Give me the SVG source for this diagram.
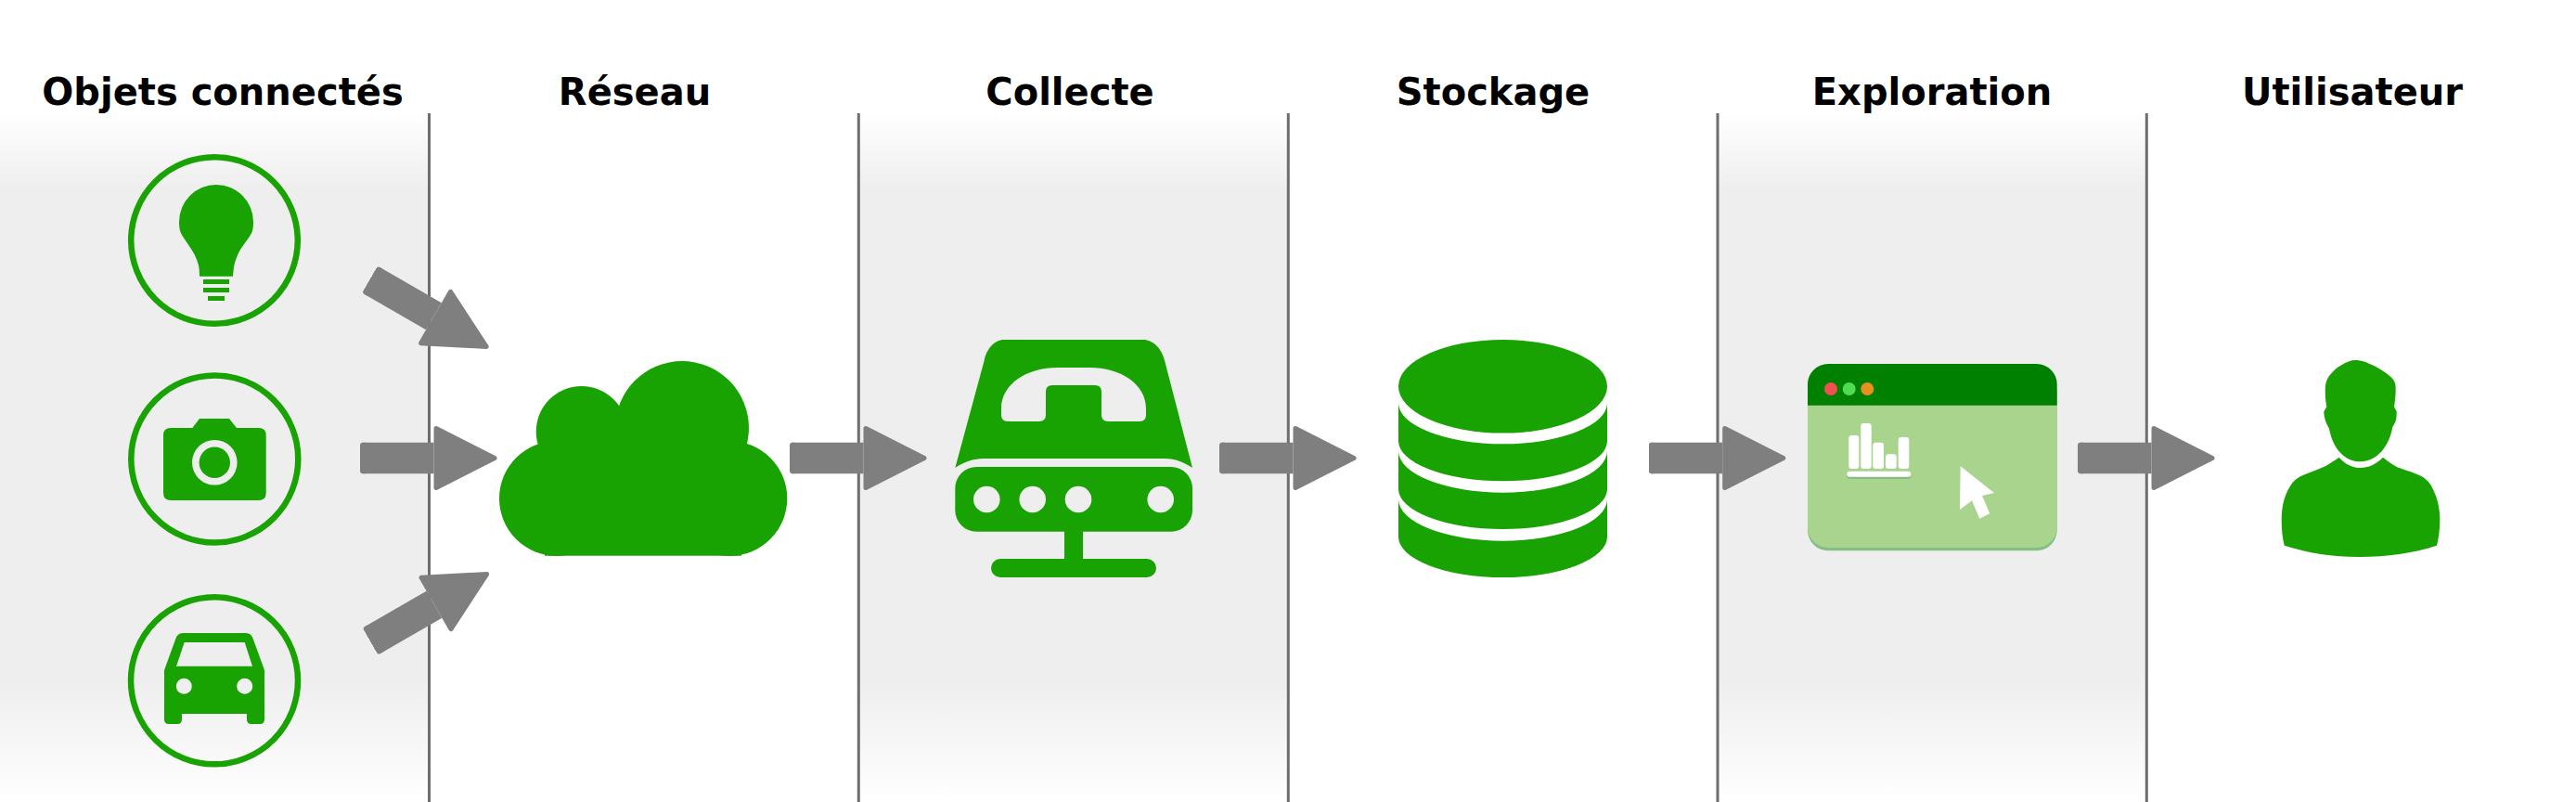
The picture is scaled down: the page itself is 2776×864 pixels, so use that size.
<svg xmlns="http://www.w3.org/2000/svg" width="2776" height="864" viewBox="0 0 2776 864">
<style>
.t{font-family:"DejaVu Sans","Liberation Sans",sans-serif;font-weight:700;font-size:40px;fill:#000;text-anchor:middle}
.g{fill:#19a302}
.div{stroke:#6e6e6e;stroke-width:3}
.ring{fill:none;stroke:#19a302;stroke-width:6.5}
.shaft{stroke:#7f7f7f;stroke-width:33.5;marker-start:url(#tail);marker-end:url(#head)}
.w{fill:#fff}
</style>
<defs>
<linearGradient id="band" gradientUnits="userSpaceOnUse" x1="0" y1="122" x2="0" y2="864">
<stop offset="0" stop-color="#fff"/><stop offset="0.11" stop-color="#eee"/><stop offset="0.82" stop-color="#eee"/><stop offset="1" stop-color="#fff"/>
</linearGradient>
<marker id="head" markerUnits="userSpaceOnUse" markerWidth="90" markerHeight="90" refX="0" refY="40" viewBox="-5 0 90 80" overflow="visible" orient="auto">
<path d="M2.5 8 L65.5 40 L2.5 72 Z" fill="#7f7f7f" stroke="#7f7f7f" stroke-width="5" stroke-linejoin="round"/>
</marker>
<marker id="tail" markerUnits="userSpaceOnUse" markerWidth="10" markerHeight="40" refX="3" refY="20" viewBox="0 0 10 40" orient="auto">
<rect x="0" y="3.25" width="8" height="33.5" rx="3" fill="#7f7f7f"/>
</marker>
</defs>
<g id="bands">
<rect x="0" y="122" width="462.5" height="742" fill="url(#band)"/>
<rect x="925.3" y="122" width="462.7" height="742" fill="url(#band)"/>
<rect x="1851" y="122" width="462" height="742" fill="url(#band)"/>
</g>
<g id="dividers">
<line class="div" x1="462.5" y1="122" x2="462.5" y2="864"/>
<line class="div" x1="925.3" y1="122" x2="925.3" y2="864"/>
<line class="div" x1="1388.3" y1="122" x2="1388.3" y2="864"/>
<line class="div" x1="1851" y1="122" x2="1851" y2="864"/>
<line class="div" x1="2313.3" y1="122" x2="2313.3" y2="864"/>
</g>
<g id="titles">
<text class="t" x="240" y="113">Objets connectés</text>
<text class="t" x="684" y="113">Réseau</text>
<text class="t" x="1153" y="113">Collecte</text>
<text class="t" x="1609" y="113">Stockage</text>
<text class="t" x="2082" y="113">Exploration</text>
<text class="t" x="2535" y="113">Utilisateur</text>
</g>
<g id="node-bulb">
<circle class="ring" cx="231" cy="259" r="89.8"/>
<path class="g" d="M193 239 A40 40 0 0 1 273 239 C273 246 272 250 270 253 C266 260 259 267 256 275 C252 284 252 288 251 297.7 H215 C215 288 214 284 210 275 C206 267 200 260 196 253 C194 250 193 246 193 239 Z"/>
<rect class="g" x="219" y="301" width="28" height="5"/>
<rect class="g" x="219" y="310" width="28" height="5"/>
<rect class="g" x="224" y="319" width="18" height="5"/>
</g>
<g id="node-camera">
<circle class="ring" cx="231.3" cy="494.5" r="90"/>
<path class="g" fill-rule="evenodd" d="M184 461 H207.3 L215 451 H247 L255 461 H278.7 Q286.7 461 286.7 469 V531 Q286.7 539 278.7 539 H184 Q176 539 176 531 V469 Q176 461 184 461 Z M207 498.3 A24.3 24.3 0 1 0 255.6 498.3 A24.3 24.3 0 1 0 207 498.3 Z M214.6 498.3 A16.7 16.7 0 1 1 248 498.3 A16.7 16.7 0 1 1 214.6 498.3 Z"/>
</g>
<g id="node-car">
<circle class="ring" cx="231" cy="733.3" r="90"/>
<path class="g" fill-rule="evenodd" d="M197 682 H265 Q271 682 273 689 L285 722 V775 Q285 780 280 780 H271 Q266 780 266 775 V769 H196 V775 Q196 780 191 780 H182 Q177 780 177 775 V722 L189 689 Q191 682 197 682 Z M198.7 692 L190 717.7 H272 L263.7 692 Z M189.8 739.3 A8.5 8.5 0 1 0 206.8 739.3 A8.5 8.5 0 1 0 189.8 739.3 Z M255.2 739.3 A8.5 8.5 0 1 0 272.2 739.3 A8.5 8.5 0 1 0 255.2 739.3 Z"/>
</g>
<g id="node-cloud">
<circle class="g" cx="600" cy="537" r="62"/>
<circle class="g" cx="786.3" cy="537" r="62"/>
<circle class="g" cx="626.7" cy="465" r="49"/>
<circle class="g" cx="735" cy="461" r="72"/>
<rect class="g" x="587" y="470" width="212" height="128.7"/>
</g>
<g id="node-collecte">
<path class="g" fill-rule="evenodd" d="M1081.7 366 H1231.7 C1243 366 1252 376 1255 388.3 L1285 504 C1276 498 1266 494 1255 494 H1060 C1049 494 1038 498 1029.3 504 L1060.7 388.3 C1063 376 1072 366 1081.7 366 Z M1079 440 C1079 414 1106 396 1140 396 H1174 C1208 396 1235 414 1235 440 V447 Q1235 454 1228 454 H1194 Q1187 454 1187 447 V422 Q1187 415 1180 415 H1134 Q1127 415 1127 422 V447 Q1127 454 1120 454 H1086 Q1079 454 1079 447 Z"/>
<path class="g" fill-rule="evenodd" d="M1052.3 503 H1262 A23 23 0 0 1 1285 526 V549.7 A23 23 0 0 1 1262 572.7 H1052.3 A23 23 0 0 1 1029.3 549.7 V526 A23 23 0 0 1 1052.3 503 Z M1049 538 A14.3 14.3 0 1 0 1077.6 538 A14.3 14.3 0 1 0 1049 538 Z M1098.4 538 A14.3 14.3 0 1 0 1127 538 A14.3 14.3 0 1 0 1098.4 538 Z M1147.7 538 A14.3 14.3 0 1 0 1176.3 538 A14.3 14.3 0 1 0 1147.7 538 Z M1236.4 538 A14.3 14.3 0 1 0 1265 538 A14.3 14.3 0 1 0 1236.4 538 Z"/>
<rect class="g" x="1147" y="572" width="20" height="32"/>
<rect class="g" x="1068" y="602" width="178" height="20" rx="10"/>
</g>
<g id="node-stockage">
<ellipse class="g" cx="1619.5" cy="416.3" rx="112.5" ry="50.3"/>
<path class="g" d="M1507 434 A112.5 44.3 0 0 0 1732 434 V475 A112.5 43.3 0 0 1 1507 475 Z"/>
<path class="g" d="M1507 485.7 A112.5 45 0 0 0 1732 485.7 V526.7 A112.5 43.3 0 0 1 1507 526.7 Z"/>
<path class="g" d="M1507 537.7 A112.5 45 0 0 0 1732 537.7 V578.3 A112.5 43.7 0 0 1 1507 578.3 Z"/>
</g>
<g id="node-exploration">
<path fill="#85bf85" d="M1948 420 H2216.7 V571 A22 22 0 0 1 2194.7 593.3 H1970 A22 22 0 0 1 1948 571 Z"/>
<path fill="#a9d48e" d="M1948 430 H2216.7 V568 A22 22 0 0 1 2194.7 590 H1970 A22 22 0 0 1 1948 568 Z"/>
<path fill="#008000" d="M1970 392 H2194.7 A22 22 0 0 1 2216.7 414 V436.7 H1948 V414 A22 22 0 0 1 1970 392 Z"/>
<circle cx="1973" cy="419" r="7" fill="#f05050"/>
<circle cx="1992.7" cy="419" r="7" fill="#50dc50"/>
<circle cx="2012.3" cy="419" r="7" fill="#e8901e"/>
<rect x="1990.3" y="509.5" width="69" height="6.5" rx="3" fill="#85bf85"/>
<rect class="w" x="1992.3" y="469" width="11" height="36" rx="3"/>
<rect class="w" x="2005.3" y="456" width="11.4" height="49" rx="3"/>
<rect class="w" x="2018.3" y="476.7" width="11.7" height="28.3" rx="3"/>
<rect class="w" x="2032" y="489.3" width="11.7" height="15.7" rx="3"/>
<rect class="w" x="2045.7" y="471" width="11.6" height="34" rx="3"/>
<rect class="w" x="1990.3" y="507.7" width="69" height="6" rx="3"/>
<path class="w" d="M2112.7 502.3 L2149 531 L2136 534 L2144.3 553.3 L2133.3 558.7 L2125 539.3 L2112 549 Z"/>
</g>
<g id="node-utilisateur">
<path class="g" d="M2538.3 388 C2544 388 2548 389.5 2553 391.7 C2561 395 2568 399 2573 403.3 C2579 408 2581.7 411 2581.7 418 C2581.7 426 2581 432 2580 438.3 L2582.7 443.3 C2582.7 448 2582.5 451 2581.7 453.3 C2581 456 2579.5 458 2578.3 460 C2575 480 2562 497.3 2543.3 497.3 C2525 497.3 2513 480 2510 461.7 C2508 458 2506.8 456 2506 453.3 C2505 450 2504.3 447 2504.3 443.3 L2507.3 438.3 C2506 431 2505.7 426 2505.7 420 C2505.7 414 2507 409 2510 405 C2514 400 2518 396 2523.3 393.3 C2529 390 2533 388 2538.3 388 Z"/>
<path class="g" d="M2520.7 492.7 C2527 500 2535 504 2543.3 504 C2552 504 2561 500 2568 492.7 C2573 497 2578 500.5 2583.3 503.3 C2590 506 2598 508 2606.7 511.7 C2614 515 2619 520 2621.7 526.7 C2627 537 2629.3 548 2629.3 560 C2629.3 570 2628 580 2626 587.7 C2600 596 2572 600 2543.3 600 C2515 600 2487 596 2461.7 587.7 C2459.5 579 2458.7 570 2458.7 560 C2458.7 545 2462 533 2468.3 523.3 C2472 517 2478 513 2486.7 510 C2494 507 2500 505 2506.7 501.7 C2511 499 2516 496 2520.7 492.7 Z"/>
</g>
<g id="connectors">
<line class="shaft" x1="401.1" y1="302.5" x2="467.4" y2="340.75"/>
<line class="shaft" x1="391" y1="493.5" x2="467.5" y2="493.5"/>
<line class="shaft" x1="401.6" y1="689.5" x2="467.9" y2="651.25"/>
<line class="shaft" x1="854" y1="493.5" x2="930.5" y2="493.5"/>
<line class="shaft" x1="1317" y1="493.5" x2="1393.5" y2="493.5"/>
<line class="shaft" x1="1779.7" y1="493.5" x2="1856.2" y2="493.5"/>
<line class="shaft" x1="2242" y1="493.5" x2="2318.5" y2="493.5"/>
</g>
</svg>
